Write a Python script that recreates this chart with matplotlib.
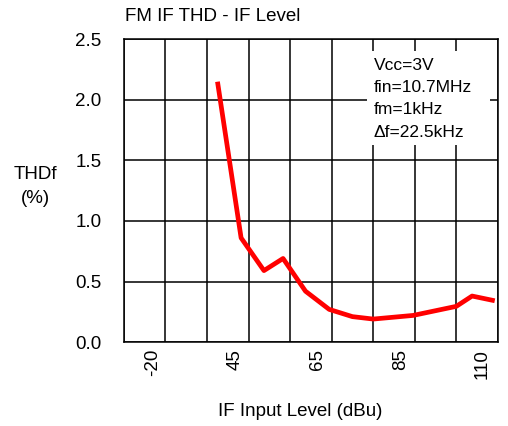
import matplotlib
matplotlib.use("Agg")
import matplotlib.pyplot as plt
from matplotlib.patches import Rectangle

plt.rcParams['font.family'] = ['Liberation Sans', 'DejaVu Sans']

# IF input level (dBu) and THD (%)
if_level = [42.6, 48.2, 53.7, 58.3, 63.7, 69.4, 75.0, 80.0, 89.6, 100.0, 103.8, 108.7]
thd = [2.13, 0.86, 0.59, 0.69, 0.42, 0.27, 0.21, 0.19, 0.22, 0.295, 0.38, 0.345]

tick_pos = [26.8, 46.8, 66.6, 86.5, 106.3]
tick_labels = ['-20', '45', '65', '85', '110']
grid_x = list(range(20, 111, 10))
y_ticks = [0.0, 0.5, 1.0, 1.5, 2.0, 2.5]

note_lines = ['Vcc=3V', 'fin=10.7MHz', 'fm=1kHz', '\u0394f=22.5kHz']

fs = 13.5

fig = plt.figure(figsize=(5.08, 4.26), dpi=100)
ax = fig.add_axes([0.244, 0.197, 0.736, 0.711])

ax.plot(if_level, thd, color='#ff0000', linewidth=3.4, zorder=3)

ax.set_xlim(20, 110)
ax.set_ylim(0, 2.5)
ax.set_xticks(tick_pos)
ax.set_xticklabels(tick_labels, rotation=90, fontsize=fs)
ax.set_xticks(grid_x, minor=True)
ax.set_yticks(y_ticks)
ax.set_yticklabels(['%.1f' % v for v in y_ticks], fontsize=fs)
ax.tick_params(axis='both', which='both', length=0)
ax.tick_params(axis='y', pad=16)
ax.tick_params(axis='x', pad=5)

ax.set_axisbelow(True)
ax.grid(which='minor', axis='x', color='black', linewidth=1.1)
ax.grid(which='major', axis='y', color='black', linewidth=1.1)
for s in ax.spines.values():
    s.set_linewidth(1.1)

# white box behind the conditions text
ax.add_patch(Rectangle((0.65, 0.65), 0.33, 0.31, transform=ax.transAxes,
                       facecolor='white', edgecolor='none', zorder=1))
for i, line in enumerate(note_lines):
    ax.text(0.668, 0.914 - i * 0.0735, line, transform=ax.transAxes,
            fontsize=12.5, va='center', ha='left', zorder=4)

fig.text(0.246, 0.962, 'FM IF THD - IF Level', fontsize=fs, ha='left', va='center')
fig.text(0.069, 0.562, 'THDf\n(%)', fontsize=fs, ha='center', va='center', linespacing=1.6)
fig.text(0.59, 0.033, 'IF Input Level (dBu)', fontsize=fs, ha='center', va='center')

fig.savefig('out.png', dpi=100)
